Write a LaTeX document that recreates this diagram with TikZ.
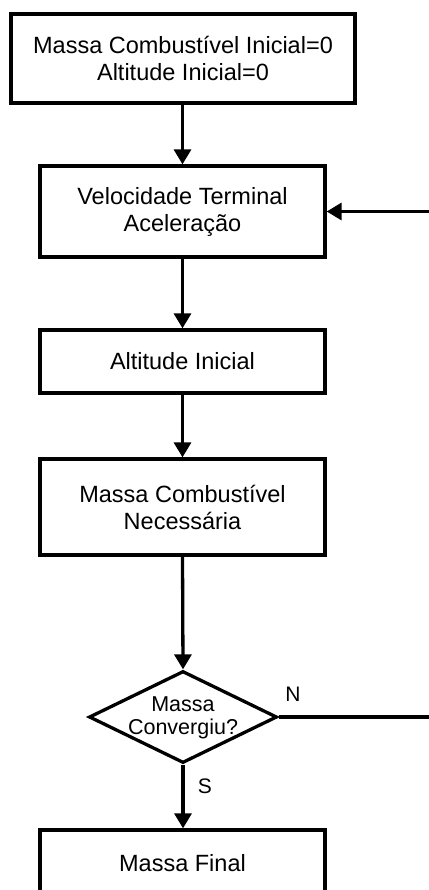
\documentclass[tikz,border=0pt]{standalone}
\usepackage{fontspec}
\setmainfont{Liberation Sans}
\usetikzlibrary{arrows.meta,shapes.geometric}

\begin{document}
\begin{tikzpicture}[x=1pt,y=-1pt,
  stepbox/.style={draw, line width=3.3pt, inner sep=0pt, align=center,
    minimum width=285pt, font=\fontsize{23.5}{27}\selectfont},
  decision/.style={draw, shape=diamond, line width=3.3pt, inner sep=0pt},
  qtext/.style={align=center, inner sep=0pt, font=\fontsize{21.5}{23}\selectfont},
  tag/.style={inner sep=0pt, font=\fontsize{21}{22}\selectfont},
  flow/.style={line width=3.3pt, -{Triangle[width=17pt,length=15pt]}}]
  \useasboundingbox (0,0) rectangle (428,890);

  % process boxes
  \node[stepbox, minimum width=344pt, minimum height=89pt] (init) at (183,58.5)
    {Massa Combustível Inicial=0\\Altitude Inicial=0};
  \node[stepbox, minimum height=91pt] (vel) at (182.5,211.5)
    {Velocidade Terminal\\Aceleração};
  \node[stepbox, minimum height=63pt] (alt) at (182.5,361.5)
    {Altitude Inicial};
  \node[stepbox, minimum height=96pt] (mcomb) at (182.5,507)
    {Massa Combustível\\Necessária};

  % decision
  \node[decision, minimum width=188pt, minimum height=92pt] (conv) at (183,717) {};
  \node[qtext] (convtxt) at (183,718) {Massa\\Convergiu?};

  % final box (runs past the lower edge)
  \node[stepbox, minimum height=66pt] (final) at (182.5,863) {Massa Final};

  % main flow
  \draw[flow] (init.south -| vel.north) -- (vel.north);
  \draw[flow] (vel) -- (alt);
  \draw[flow] (alt) -- (mcomb);
  \draw[flow] (mcomb.south) -- (conv.north);
  \draw[flow] (conv.south) -- (final.north -| conv.south);

  % loop back when not converged
  \coordinate (loopR) at (432,717);
  \draw[flow] (conv.east) -- (loopR) |- (vel.east);

  % branch labels
  \node[tag] (lblN) at (293,694) {N};
  \node[tag] (lblS) at (205,786) {S};
\end{tikzpicture}
\end{document}
